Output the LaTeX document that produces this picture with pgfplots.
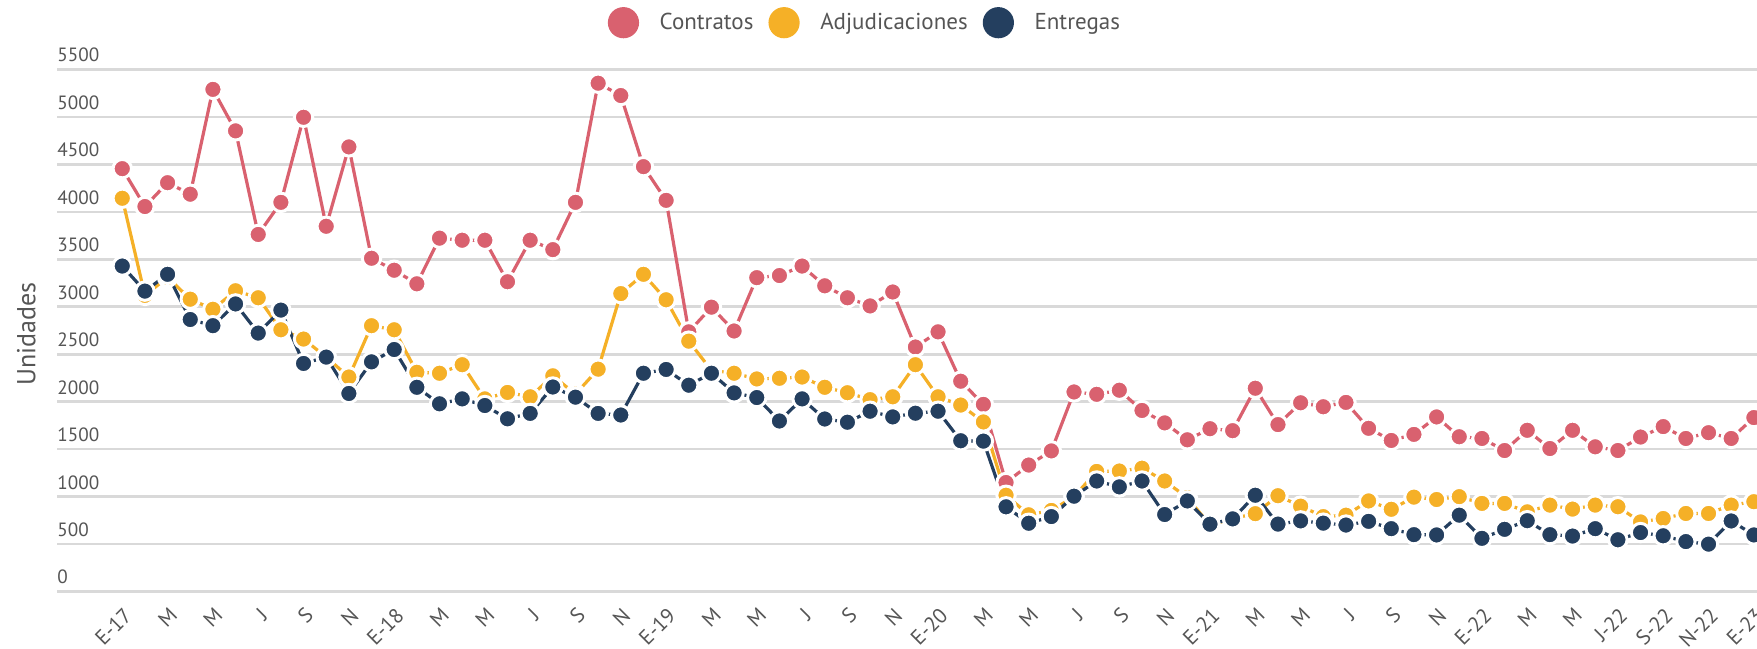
\documentclass[border=0pt]{standalone}
\usepackage{fontspec}
\setmainfont{PT Sans}
\usepackage{pgfplots}
\usepackage{pgfplotstable}
\pgfplotsset{compat=1.18}
\definecolor{cRed}{HTML}{D9616F}
\definecolor{cOra}{HTML}{F5B027}
\definecolor{cNav}{HTML}{243F5F}
\definecolor{cGrid}{HTML}{D9D9D9}
\definecolor{cTxt}{HTML}{555555}

\pgfplotstableread{
i c a e
0 4455 4143 3429
1 4056 3120 3165
2 4307 3310 3342
3 4186 3080 2866
4 5290 2974 2801
5 4853 3169 3030
6 3762 3095 2723
7 4100 2758 2965
8 4996 2660 2403
9 3848 2470 2470
10 4684 2260 2087
11 3511 2801 2420
12 3385 2758 2550
13 3242 2310 2152
14 3723 2300 1978
15 3701 2390 2030
16 3701 2030 1960
17 3264 2098 1820
18 3701 2052 1877
19 3602 2273 2155
20 4100 2080 2048
21 5355 2343 1877
22 5225 3139 1860
23 4476 3342 2300
24 4121 3074 2340
25 2736 2638 2174
26 2996 2330 2300
27 2745 2300 2093
28 3307 2240 2044
29 3329 2247 1797
30 3429 2260 2030
31 3221 2152 1818
32 3095 2095 1784
33 3009 2022 1900
34 3156 2052 1840
35 2576 2390 1879
36 2736 2052 1900
37 2216 1965 1589
38 1972 1787 1585
39 1149 1015 893
40 1333 809 720
41 1482 855 790
42 2103 1000 1005
43 2078 1266 1165
44 2121 1270 1103
45 1908 1300 1165
46 1777 1165 812
47 1599 990 955
48 1716 700 710
49 1695 770 766
50 2142 821 1015
51 1759 1010 711
52 1989 900 745
53 1947 790 721
54 1993 805 701
55 1720 955 740
56 1592 867 663
57 1656 995 600
58 1840 970 597
59 1631 1000 805
60 1613 929 561
61 1486 929 656
62 1699 840 747
63 1507 911 600
64 1699 869 585
65 1525 911 663
66 1486 894 546
67 1628 734 622
68 1738 770 588
69 1613 823 527
70 1674 823 500
71 1613 911 744
72 1833 947 597
}\data

\begin{document}
\begin{tikzpicture}
\begin{axis}[
  scale only axis,
  width=850bp, height=268.2bp,
  xmin=-2.88, xmax=72.14, ymin=0, ymax=5650,
  axis line style={draw=none},
  major tick length=0pt,
  ytick={0,500,...,5500},
  ymajorgrids,
  grid style={cGrid, line width=1.3bp},
  xtick={0,2,...,72},
  xticklabels={E-17,M,M,J,S,N,E-18,M,M,J,S,N,E-19,M,M,J,S,N,E-20,M,M,J,S,N,E-21,M,M,J,S,N,E-22,M,M,J-22,S-22,N-22,E-23},
  xticklabel style={font=\fontsize{10.5bp}{12bp}\selectfont, text=cTxt, inner sep=0pt, xshift=3bp, yshift=-10bp, rotate=45, anchor=east},
  yticklabel style={font=\fontsize{9.6bp}{11bp}\selectfont, text=cTxt, inner sep=0pt, anchor=south west, yshift=3.5bp, /pgf/number format/1000 sep={}, /pgf/number format/assume math mode=true},
  ylabel={Unidades},
  every axis y label/.style={at={(axis description cs:-0.0180,0.48)}, rotate=90, anchor=center, font=\fontsize{13bp}{15bp}\selectfont, text=cTxt},
  legend columns=3,
  legend style={at={(0.4770,1.0606)}, anchor=center, draw=none, fill=none,
    font=\fontsize{11.5bp}{14bp}\selectfont, text=cTxt,
    /tikz/every even column/.append style={column sep=3.5bp},
    nodes={inner xsep=4bp}},
  legend image code/.code={\fill[#1, draw=none] (0bp,0) circle (7.8bp); \path (13.3bp,0);},
  every axis plot/.append style={line width=1.6bp},
]
\addplot[color=cRed, mark=*, mark size=4.6bp, mark options={fill=cRed, draw=white, line width=1.5bp}] table[x=i, y=c] {\data};
\addlegendentry{Contratos}
\addplot[color=cOra, mark=*, mark size=4.6bp, mark options={fill=cOra, draw=white, line width=1.5bp}] table[x=i, y=a] {\data};
\addlegendentry{Adjudicaciones}
\addplot[color=cNav, mark=*, mark size=4.6bp, mark options={fill=cNav, draw=white, line width=1.5bp}] table[x=i, y=e] {\data};
\addlegendentry{Entregas}
\end{axis}
\pgfresetboundingbox
\path[use as bounding box] (-28.5bp,-28.7bp) rectangle (850bp,295.8bp);
\end{tikzpicture}
\end{document}
